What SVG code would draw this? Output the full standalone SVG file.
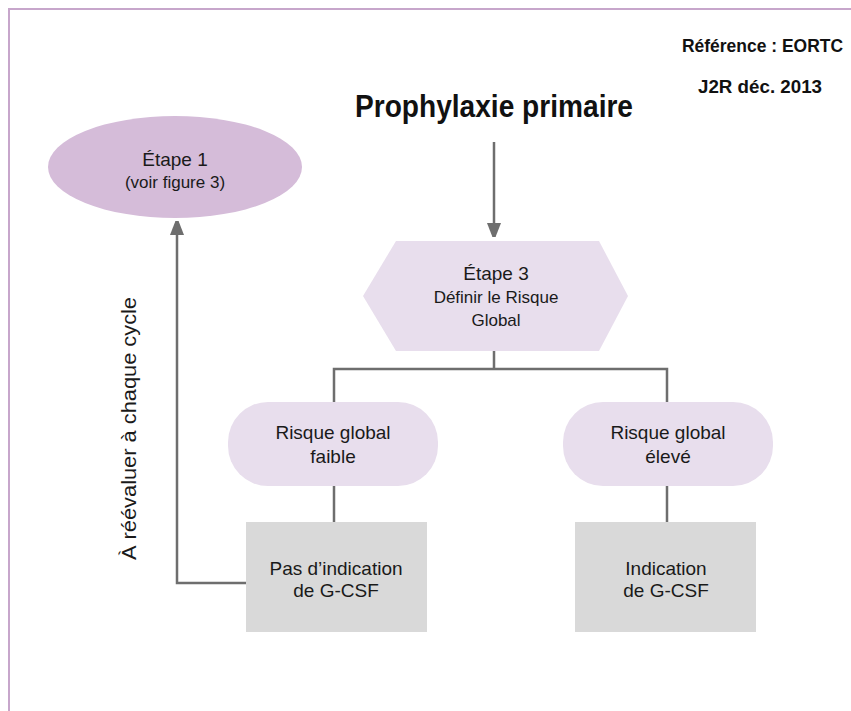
<svg xmlns="http://www.w3.org/2000/svg" width="851" height="711" viewBox="0 0 851 711">
<style>
  .t { font-family: "Liberation Sans", Arial, sans-serif; fill: #1a1a1a; text-anchor: middle; }
  .b { font-family: "Liberation Sans", Arial, sans-serif; font-weight: bold; fill: #111; }
  .c { fill: none; stroke: #6e6e6e; stroke-width: 2.5; }
  .pill { fill: #e8deed; }
  .box { fill: #d9d9d9; }
</style>
<defs>
  <marker id="arr" viewBox="0 0 14 18" refX="14" refY="7" markerWidth="14" markerHeight="18" markerUnits="userSpaceOnUse" orient="auto">
    <path d="M0,0 L18,7 L0,14 Z" fill="#6e6e6e"/>
  </marker>
</defs>
<rect width="851" height="711" fill="#ffffff"/>
<path d="M9,711 V9 H851" fill="none" stroke="#c7a6cb" stroke-width="2"/>

<g id="header">
  <text class="b" x="682" y="52" font-size="18" textLength="161" lengthAdjust="spacingAndGlyphs">Référence : EORTC</text>
  <text class="b" x="698" y="93" font-size="18" textLength="124" lengthAdjust="spacingAndGlyphs">J2R déc. 2013</text>
  <text class="b" x="355" y="117" font-size="31" textLength="278" lengthAdjust="spacingAndGlyphs">Prophylaxie primaire</text>
</g>

<g id="connectors">
  <path class="c" d="M494,142 V237" marker-end="url(#arr)"/>
  <path class="c" d="M494,351 V369 M334,402 V369 H667 V402"/>
  <path class="c" d="M334,486 V522"/>
  <path class="c" d="M667,486 V522"/>
  <path class="c" d="M246,583 H177 V221" marker-end="url(#arr)"/>
  <text class="t" transform="translate(136,560) rotate(-90)" x="0" y="0" font-size="20" text-anchor="start" style="text-anchor:start" textLength="263" lengthAdjust="spacingAndGlyphs">À réévaluer à chaque cycle</text>
</g>

<g id="etape1">
  <ellipse cx="175" cy="167" rx="127" ry="51" fill="#d5bcd9"/>
  <text class="t" x="175" y="166" font-size="19">Étape 1</text>
  <text class="t" x="175" y="188" font-size="17">(voir figure 3)</text>
</g>

<g id="etape3">
  <polygon class="pill" points="363,296 396,241 599,241 628,296 599,351 396,351"/>
  <text class="t" x="496" y="280" font-size="19">Étape 3</text>
  <text class="t" x="496" y="303" font-size="17">Définir le Risque</text>
  <text class="t" x="496" y="326" font-size="17">Global</text>
</g>

<g id="risque-faible">
  <rect class="pill" x="228" y="402" width="210" height="84" rx="40" ry="40"/>
  <text class="t" x="333" y="439" font-size="19">Risque global</text>
  <text class="t" x="333" y="463" font-size="19">faible</text>
</g>

<g id="risque-eleve">
  <rect class="pill" x="563" y="402" width="210" height="84" rx="40" ry="40"/>
  <text class="t" x="668" y="439" font-size="19">Risque global</text>
  <text class="t" x="668" y="463" font-size="19">élevé</text>
</g>

<g id="pas-indication">
  <rect class="box" x="246" y="522" width="181" height="110"/>
  <text class="t" x="336" y="575" font-size="19">Pas d’indication</text>
  <text class="t" x="336" y="597" font-size="19">de G-CSF</text>
</g>

<g id="indication">
  <rect class="box" x="575" y="522" width="181" height="110"/>
  <text class="t" x="666" y="575" font-size="19">Indication</text>
  <text class="t" x="666" y="597" font-size="19">de G-CSF</text>
</g>
</svg>
